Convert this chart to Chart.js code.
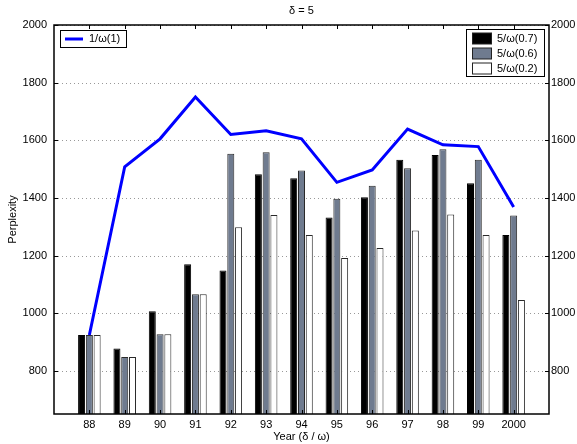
<!DOCTYPE html>
<html>
<head>
<meta charset="utf-8">
<script src="https://cdn.jsdelivr.net/npm/chart.js@4"></script>
<style>
  body { margin: 0; background: #fff; }
  #wrap { width: 577px; height: 444px; }
</style>
</head>
<body>
<div id="wrap"><canvas id="chart" width="577" height="444"></canvas></div>
<script>
// values
const years = ["88", "89", "90", "91", "92", "93", "94", "95", "96", "97", "98", "99", "2000"];
const lineOmega1 = [924, 1508, 1605, 1750, 1620, 1633, 1605, 1454, 1497, 1639, 1584, 1578, 1368];
const barOmega07 = [924, 877, 1007, 1170, 1148, 1482, 1468, 1332, 1402, 1532, 1549, 1451, 1271];
const barOmega06 = [924, 848, 927, 1066, 1553, 1558, 1495, 1397, 1442, 1503, 1569, 1532, 1339];
const barOmega02 = [924, 848, 927, 1066, 1298, 1341, 1271, 1191, 1226, 1287, 1342, 1271, 1046];
const yTicks = [800, 1000, 1200, 1400, 1600, 1800, 2000];

// one blank slot each side, like the original axis
const labels = ["", ...years, ""];
const pad = (arr) => [null, ...arr, null];

Chart.defaults.font.family = "'Liberation Sans', Arial, sans-serif";
Chart.defaults.font.size = 11;
Chart.defaults.color = "#000";

// frame, dotted grid, inward ticks, title and the two legend boxes
const framePlugin = {
  id: "frame",
  beforeDatasetsDraw(chart) {
    const { ctx, chartArea: a, scales } = chart;
    ctx.save();
    ctx.strokeStyle = "#999";
    ctx.lineWidth = 1;
    ctx.setLineDash([1, 3]);
    ctx.beginPath();
    yTicks.forEach((v) => {
      const py = Math.round(scales.y.getPixelForValue(v)) + 0.5;
      ctx.moveTo(a.left, py); ctx.lineTo(a.right, py);
    });
    ctx.stroke();
    ctx.restore();
  },
  afterDraw(chart) {
    const { ctx, chartArea: a, scales } = chart;
    ctx.save();
    ctx.strokeStyle = "#000";
    ctx.lineWidth = 1.5;
    ctx.strokeRect(a.left, a.top, a.right - a.left, a.bottom - a.top);

    ctx.lineWidth = 1;
    ctx.beginPath();
    scales.x.ticks.forEach((t, i) => {
      if (!labels[i]) return;
      const px = Math.round(scales.x.getPixelForTick(i)) + 0.5;
      ctx.moveTo(px, a.top); ctx.lineTo(px, a.top + 4);
      ctx.moveTo(px, a.bottom); ctx.lineTo(px, a.bottom - 4);
    });
    yTicks.forEach((v) => {
      const py = Math.round(scales.y.getPixelForValue(v)) + 0.5;
      ctx.moveTo(a.left, py); ctx.lineTo(a.left + 4, py);
      ctx.moveTo(a.right, py); ctx.lineTo(a.right - 4, py);
    });
    ctx.stroke();

    ctx.fillStyle = "#000";
    ctx.font = "11px 'Liberation Sans', Arial, sans-serif";
    ctx.textAlign = "center";
    ctx.textBaseline = "middle";
    ctx.fillText("\u03b4 = 5", (a.left + a.right) / 2, 11);

    const ds = chart.data.datasets;
    ctx.textAlign = "left";
    // left legend: line series
    ctx.fillStyle = "#fff";
    ctx.fillRect(60.5, 30.5, 66, 17);
    ctx.strokeStyle = "#000";
    ctx.lineWidth = 1;
    ctx.strokeRect(60.5, 30.5, 66, 17);
    ctx.strokeStyle = ds[0].borderColor;
    ctx.lineWidth = 3;
    ctx.beginPath(); ctx.moveTo(65, 39); ctx.lineTo(83, 39); ctx.stroke();
    ctx.fillStyle = "#000";
    ctx.fillText(ds[0].label, 89, 39);

    // right legend: bar series
    ctx.fillStyle = "#fff";
    ctx.fillRect(466.5, 29.5, 78, 47);
    ctx.strokeStyle = "#000";
    ctx.lineWidth = 1;
    ctx.strokeRect(466.5, 29.5, 78, 47);
    [1, 2, 3].forEach((k, r) => {
      const cy = 38.5 + r * 15;
      ctx.fillStyle = ds[k].backgroundColor;
      ctx.fillRect(472.5, cy - 5.5, 19, 11);
      ctx.strokeStyle = "#222";
      ctx.strokeRect(472.5, cy - 5.5, 19, 11);
      ctx.fillStyle = "#000";
      ctx.fillText(ds[k].label, 497, cy);
    });
    ctx.restore();
  },
};

new Chart(document.getElementById("chart"), {
  data: {
    labels: labels,
    datasets: [
      {
        type: "line",
        label: "1/\u03c9(1)",
        data: pad(lineOmega1),
        borderColor: "#0000ff",
        borderWidth: 3,
        pointRadius: 0,
        tension: 0,
        fill: false,
      },
      {
        type: "bar",
        label: "5/\u03c9(0.7)",
        data: pad(barOmega07),
        backgroundColor: "#000000",
        borderColor: "#000000",
        borderWidth: 1,
      },
      {
        type: "bar",
        label: "5/\u03c9(0.6)",
        data: pad(barOmega06),
        backgroundColor: "#6f7b8f",
        borderColor: "#2a2a2a",
        borderWidth: 1,
      },
      {
        type: "bar",
        label: "5/\u03c9(0.2)",
        data: pad(barOmega02),
        backgroundColor: "#ffffff",
        borderColor: "#2a2a2a",
        borderWidth: 1,
      },
    ],
  },
  options: {
    responsive: false,
    animation: false,
    layout: { padding: { top: 25, left: 0, right: 0, bottom: 0 } },
    datasets: { bar: { categoryPercentage: 0.66, barPercentage: 0.9 } },
    plugins: { legend: { display: false }, tooltip: { enabled: false } },
    scales: {
      x: {
        offset: false,
        grid: { display: false, drawTicks: false },
        border: { display: false },
        ticks: { padding: 4, autoSkip: false, maxRotation: 0 },
        title: { display: true, text: "Year (\u03b4 / \u03c9)", padding: { top: 0, bottom: 0 } },
        afterFit: (s) => { s.height = 30; },
      },
      y: {
        position: "left",
        min: 650,
        max: 2000,
        afterBuildTicks: (s) => { s.ticks = yTicks.map((v) => ({ value: v })); },
        grid: { display: false, drawTicks: false },
        border: { display: false },
        ticks: { padding: 7, callback: (v) => String(v) },
        title: { display: true, text: "Perplexity", padding: { top: 6, bottom: 0 } },
        afterFit: (s) => { s.width = 54; },
      },
      y2: {
        position: "right",
        min: 650,
        max: 2000,
        afterBuildTicks: (s) => { s.ticks = yTicks.map((v) => ({ value: v })); },
        grid: { display: false, drawTicks: false },
        border: { display: false },
        ticks: { padding: 2, callback: (v) => String(v) },
        afterFit: (s) => { s.width = 28; },
      },
    },
  },
  plugins: [framePlugin],
});
</script>
</body>
</html>
